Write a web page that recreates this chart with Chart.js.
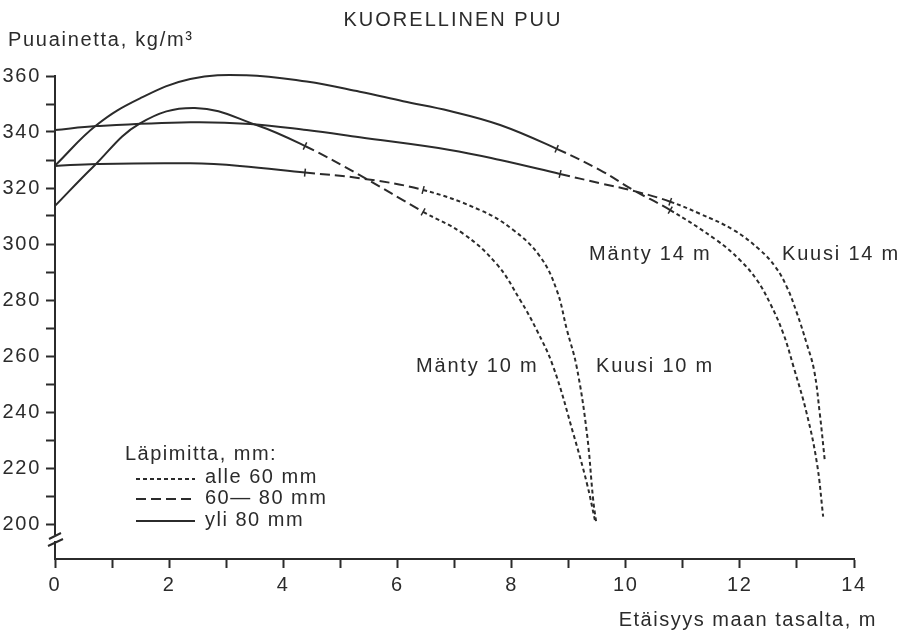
<!DOCTYPE html>
<html>
<head>
<meta charset="utf-8">
<script src="https://cdn.jsdelivr.net/npm/chart.js@4.4.1/dist/chart.umd.min.js"></script>
<style>
  html, body { margin: 0; padding: 0; background: #fff; }
  canvas { display: block; }
</style>
</head>
<body>
<canvas id="myChart" width="902" height="632"></canvas>
<script>
// sarjojen nimet (puulaji ja pituus)
const seriesNames = ["Mänty 14 m", "Kuusi 14 m", "Mänty 10 m", "Kuusi 10 m"];

// etäisyys maan tasalta (m) ja puuaineen tiheys (kg/m3)
const manty14X = [0, 0.73, 1.49, 2.37, 3.35, 4.41, 5.34, 6.1, 6.92, 7.8, 8.79, 9.55, 10.13, 10.78, 11.59, 12.0, 12.3, 12.53, 12.76, 12.94, 13.17, 13.35, 13.46];
const manty14Y = [328, 342.5, 352, 358.9, 360.3, 358, 354.4, 351, 347.5, 342.5, 334, 326.4, 319.3, 312.1, 301.4, 294.3, 287.1, 278.8, 268.1, 256.2, 239.6, 221.8, 202.6];

const kuusi14X = [0, 0.73, 2.37, 3.42, 4.41, 5.34, 6.92, 7.8, 8.85, 9.55, 10.19, 10.78, 11.3, 11.89, 12.35, 12.62, 12.82, 13.0, 13.17, 13.3, 13.4, 13.49];
const kuusi14Y = [340.7, 342.1, 343.5, 342.9, 340.7, 338.1, 333.6, 330, 325, 321.7, 318.7, 315.1, 310.8, 305, 297.9, 291.9, 284.8, 275.3, 264.5, 255, 239.5, 222.3];

const manty10X = [0, 0.67, 1.49, 2.45, 3.53, 4.38, 5.34, 6.45, 7.15, 7.74, 8.15, 8.44, 8.73, 9.08, 9.32, 9.46];
const manty10Y = [313.6, 327.6, 343.1, 348.6, 342.5, 335, 324.6, 311.5, 303.7, 292.8, 280, 269.3, 256.2, 232.4, 214.5, 201.4];

const kuusi10X = [0, 0.73, 2.37, 3.24, 4.38, 5.34, 6.45, 7.45, 8.03, 8.5, 8.79, 8.97, 9.14, 9.32, 9.43, 9.48];
const kuusi10Y = [327.9, 328.6, 328.8, 327.9, 325.5, 323.5, 319.3, 312.1, 305, 295.5, 283.6, 269.3, 256.2, 232.4, 208.6, 201];

// mistä kohdasta läpimitta vaihtuu (katkoviiva / pisteviiva)
const dashFrom = [8.79, 8.85, 4.38, 4.38];
const dotFrom = [10.78, 10.78, 6.45, 6.45];

// akselit
const xTicks = [0, 2, 4, 6, 8, 10, 12, 14];
const yTicks = [200, 220, 240, 260, 280, 300, 320, 340, 360];

const legendTitle = "Läpimitta, mm:";
const legendLabels = ["alle 60 mm", "60\u2014 80 mm", "yli 80 mm"];

const ink = "#2b2b2b";
const FONT = '"Liberation Sans", Arial, sans-serif';
const DOT = [4, 3];
const DASH = [10, 5];

function toPoints(xs, ys) {
    let pts = [];
    for (let i = 0; i < xs.length; i++) {
        pts.push({ x: xs[i], y: ys[i] });
    }
    return pts;
}

const allX = [manty14X, kuusi14X, manty10X, kuusi10X];
const allY = [manty14Y, kuusi14Y, manty10Y, kuusi10Y];

let datasets = [];
for (let s = 0; s < seriesNames.length; s++) {
    const d0 = dashFrom[s], d1 = dotFrom[s];
    datasets.push({
        label: seriesNames[s],
        data: toPoints(allX[s], allY[s]),
        borderColor: ink,
        borderWidth: 2,
        fill: false,
        tension: 0.4,
        clip: false,
        segment: {
            borderDash: function (ctx) {
                const x = ctx.p0.parsed.x;
                if (x >= d1 - 0.001) return DOT;
                if (x >= d0 - 0.001) return DASH;
                return [];
            }
        },
        // pienet poikkiviivat läpimittaluokan vaihtumiskohdissa
        pointStyle: "line",
        pointRadius: function (ctx) {
            const x = ctx.raw.x;
            return (x === d0 || x === d1) ? 4 : 0;
        },
        pointHoverRadius: 0,
        pointBorderColor: ink,
        pointBorderWidth: 1.5,
        pointRotation: function (ctx) {
            const data = ctx.dataset.data;
            const i = ctx.dataIndex;
            const a = data[Math.max(i - 1, 0)], b = data[Math.min(i + 1, data.length - 1)];
            const sx = ctx.chart.scales.x, sy = ctx.chart.scales.y;
            if (!sx || !sy) return 90;
            const dx = sx.getPixelForValue(b.x) - sx.getPixelForValue(a.x);
            const dy = sy.getPixelForValue(b.y) - sy.getPixelForValue(a.y);
            return Math.atan2(dy, dx) * 180 / Math.PI + 90;
        }
    });
}

// tekstit, selite ja akselin katkos
const extras = {
    id: "extras",
    beforeDraw(chart) {
        chart.ctx.letterSpacing = "1.7px";
    },
    afterDraw(chart) {
        const c = chart.ctx;
        const sx = chart.scales.x;
        c.save();
        c.fillStyle = ink;
        c.strokeStyle = ink;
        c.font = "20px " + FONT;
        c.textBaseline = "alphabetic";

        function txt(s, x, y, align, sp) {
            c.letterSpacing = sp;
            c.textAlign = align;
            c.fillText(s, x, y);
        }

        txt("KUORELLINEN PUU", 453, 26, "center", "2px");
        txt("Puuainetta, kg/m\u00b3", 8, 46, "left", "1.7px");
        txt("Etäisyys maan tasalta, m", 877, 626, "right", "1.5px");

        // käyrien nimet
        txt(seriesNames[0], 589, 260, "left", "1.8px");
        txt(seriesNames[1], 782, 260, "left", "1.8px");
        txt(seriesNames[2], 416, 372, "left", "1.8px");
        txt(seriesNames[3], 596, 372, "left", "1.8px");

        // selite
        txt(legendTitle, 125, 460, "left", "1.5px");
        const styles = [DOT, DASH, []];
        const lineY = [479, 499, 521];
        const textY = [483, 504, 526];
        c.lineWidth = 2;
        for (let i = 0; i < 3; i++) {
            c.setLineDash(styles[i]);
            c.beginPath();
            c.moveTo(136, lineY[i]);
            c.lineTo(195, lineY[i]);
            c.stroke();
            txt(legendLabels[i], 205, textY[i], "left", "1.5px");
        }
        c.setLineDash([]);

        // y-akselin katkos
        const ax = sx.left;
        c.fillStyle = "#fff";
        c.fillRect(ax - 3, 535, 6, 6);
        c.beginPath();
        c.moveTo(ax - 6, 539);
        c.lineTo(ax + 6, 533);
        c.moveTo(ax - 7, 546);
        c.lineTo(ax + 8, 539);
        c.stroke();
        c.restore();
    }
};

const tickFont = { family: FONT, size: 20 };

new Chart(document.getElementById("myChart"), {
    type: "line",
    data: { datasets: datasets },
    options: {
        responsive: false,
        animation: false,
        layout: { padding: { top: 76, right: 48, left: 0, bottom: 0 }, autoPadding: false },
        plugins: {
            legend: { display: false },
            tooltip: { enabled: false },
            title: { display: false }
        },
        scales: {
            x: {
                type: "linear",
                min: 0,
                max: 14,
                afterFit: function (s) { s.height = 73; },
                ticks: {
                    stepSize: 1,
                    autoSkip: false,
                    maxRotation: 0,
                    padding: 5,
                    color: ink,
                    font: tickFont,
                    callback: function (v) { return xTicks.includes(v) ? String(v) : ""; }
                },
                grid: { drawOnChartArea: false, drawTicks: true, tickLength: 9, tickColor: ink, tickWidth: 2 },
                border: { display: true, color: ink, width: 2 }
            },
            y: {
                type: "linear",
                min: 187.5,
                max: 360,
                afterFit: function (s) { s.width = 55; },
                afterBuildTicks: function (s) {
                    s.ticks = s.ticks.filter(function (t) { return t.value >= 200; });
                },
                ticks: {
                    stepSize: 10,
                    padding: 5,
                    color: ink,
                    font: tickFont,
                    callback: function (v) { return yTicks.includes(v) ? String(v) : ""; }
                },
                grid: { drawOnChartArea: false, drawTicks: true, tickLength: 9, tickColor: ink, tickWidth: 2 },
                border: { display: true, color: ink, width: 2 }
            }
        }
    },
    plugins: [extras]
});
</script>
</body>
</html>
